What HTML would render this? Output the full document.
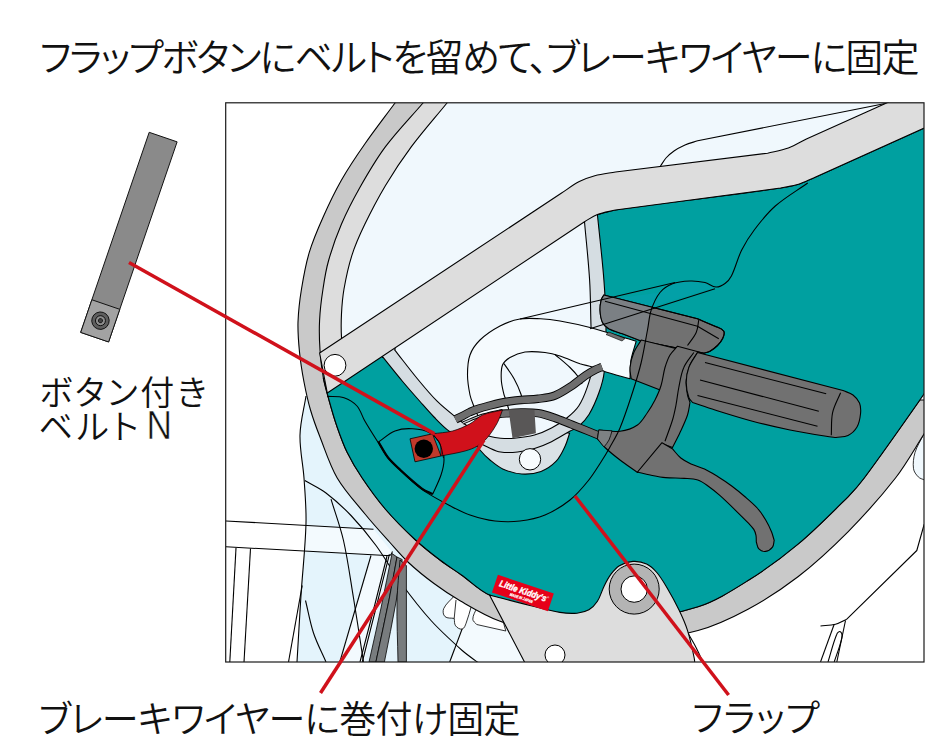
<!DOCTYPE html>
<html lang="ja"><head><meta charset="utf-8"><title>フラップボタンにベルトを留めて、ブレーキワイヤーに固定</title>
<style>
html,body{margin:0;padding:0;background:#fff;}
body{width:945px;height:754px;overflow:hidden;font-family:"Liberation Sans","Noto Sans CJK JP",sans-serif;}
svg{display:block;}
svg text{font-feature-settings:"palt" 1;}
</style></head><body>
<svg width="945" height="754" viewBox="0 0 945 754">
<defs><clipPath id="fr"><rect x="225.7" y="102.8" width="698.3" height="559.2"/></clipPath></defs>
<rect width="945" height="754" fill="#fff"/>
<g clip-path="url(#fr)" stroke-linejoin="round">
<path d="M306 396C304 409 300.3 421.9 300 435C299.6 449.4 303 463.6 304 478C305 493 306.4 508 306 523C305.4 547 302.6 571 301 595C299.6 617.3 298.3 639.7 297 662L640 662L640 400L306 396Z" fill="#e4f4fc" stroke="none" stroke-width="1.1" />
<path d="M305.5 525.3L373.5 529.3L392 552L386 555.5L304.5 551Z" fill="#f3fafe" stroke="none" stroke-width="1.1" />
<path d="M371 555.5L391 554L364 662L339.8 662Z" fill="#f3fafe" stroke="none" stroke-width="1.1" />
<path d="M470 606L505 620L526 662L449.7 662Z" fill="#f3fafe" stroke="none" stroke-width="1.1" />
<path d="M306 396C304 409 300.3 421.9 300 435C299.6 449.4 303 463.6 304 478C305 493 306.4 508 306 523C305.4 547 302.6 571 301 595C299.6 617.3 298.3 639.7 297 662" fill="none" stroke="#000" stroke-width="1.1" />
<path d="M226 521L373.5 529.2" fill="none" stroke="#000" stroke-width="1.1" />
<path d="M226 546.8L386 555.5C387.5 555.3 389.2 555.8 390.5 555C391.6 554.3 391.8 552.7 392.5 551.5" fill="none" stroke="#000" stroke-width="1.1" />
<path d="M236 548L229.8 662" fill="none" stroke="#000" stroke-width="1.1" />
<path d="M250.5 548.5L244 662" fill="none" stroke="#000" stroke-width="1.1" />
<path d="M302.2 585.5L288.5 662" fill="none" stroke="#000" stroke-width="1.1" />
<path d="M305.5 600.5C308.2 611.3 310 622.4 313.5 633C316.8 643 321.8 652.3 326 662" fill="none" stroke="#000" stroke-width="1.1" />
<path d="M331 499.2C335.2 513 340.3 526.5 343.5 540.5C347.8 559.5 350.3 578.8 353.5 598C357 619.3 360.2 640.7 363.5 662" fill="none" stroke="#000" stroke-width="1.1" />
<path d="M371 555.5L339.8 662" fill="none" stroke="#000" stroke-width="1.1" />
<path d="M304.8 480.5C311.8 484.7 319.4 488 326 493C334.9 499.8 343.3 507.4 351 515.5C360 524.9 368.3 535 376 545.5C384.9 557.6 392.1 570.9 401 583C410.5 595.9 420.2 608.6 431 620.5C440.7 631.2 451.5 640.9 462.2 650.5C467.8 655.4 474.1 659.5 480 664" fill="none" stroke="#000" stroke-width="1.1" />
<path d="M470 608L449.7 662" fill="none" stroke="#000" stroke-width="1.1" />
<path d="M389.4 554.4C385.6 569.6 381.8 584.8 378 600C372.8 620.7 367.5 641.3 362.3 662" fill="none" stroke="#000" stroke-width="1.1" />
<path d="M387 556C383 572 379.1 588 375 604C370.1 623.4 365 642.7 360 662" fill="none" stroke="#000" stroke-width="1.1" />
<path d="M392 553.6L397 557C394.3 571.3 391.9 585.7 389 600C384.8 620.7 380.3 641.3 375.9 662L369 662C373 644 377.2 626 381 608C384.8 589.9 388.3 571.7 392 553.6Z" fill="#787c7e" stroke="#000" stroke-width="0.8" />
<path d="M397 557L402.2 559.5C400.2 573.3 398.6 587.2 396.2 601C392.7 621.4 388.3 641.7 384.4 662L375.9 662C380.3 641.3 384.8 620.7 389 600C391.9 585.7 394.3 571.3 397 557Z" fill="#787c7e" stroke="#000" stroke-width="0.8" />
<path d="M400 560L406.4 565.5L406.4 662L398 662C397.7 641.7 396.6 621.3 397 601C397.3 587.3 399 573.7 400 560Z" fill="#787c7e" stroke="#000" stroke-width="0.8" />
<path d="M454.2 596C450.7 600.2 445.9 603.6 443.7 608.6C442.6 611.1 443 614.8 445 616.6C447.3 618.7 451.1 617.8 454.2 618.4C454.7 620.9 454.1 623.8 455.6 625.8C457.1 627.8 459.8 629.6 462.2 629C464.5 628.4 465.2 625.4 466.1 623.2C468.3 617.6 469.6 611.7 471.4 606Z" fill="#fff" stroke="#000" stroke-width="0.8" />
<path d="M454.2 618.4L456 600" fill="none" stroke="#000" stroke-width="0.8" />
<path d="M476.7 608C475.4 611.7 472.8 615.2 472.8 619.2C472.8 621.4 475.4 622.7 476.7 624.5L505.8 631L500 610Z" fill="#fff" stroke="#000" stroke-width="0.8" />
<path d="M924.2 524.2L916.8 550.5L846.8 619.2" fill="none" stroke="#000" stroke-width="1.1" />
<path d="M820.5 626C825.5 625.4 830.6 625.5 835.5 624.2C839.5 623.2 843 620.9 846.8 619.2" fill="none" stroke="#000" stroke-width="1.1" />
<path d="M834.2 624.2L820.5 662" fill="none" stroke="#000" stroke-width="1.1" />
<path d="M845.5 620.5L836.8 662" fill="none" stroke="#000" stroke-width="1.1" />
<path d="M828 662C830.9 652.8 833 643.2 836.8 634.2C837.3 632.9 839.3 630.8 840.5 631.8C842.2 633 842.2 635.9 841.8 638C840.1 646.2 836.8 654 834.2 662" fill="none" stroke="#000" stroke-width="1.1" />
<path d="M923.5 434.6C920.7 440.6 916.9 446.2 915 452.5C913.5 457.7 912.8 463.3 913.5 468.7C913.9 471.8 916.1 474.6 918.3 476.9C919.9 478.6 922.4 479 924.5 480L930 480L930 434Z" fill="#f0f8fd" stroke="#000" stroke-width="0.8" />
<path d="M688.2 633.6C690.8 638.1 693.5 642.6 695.9 647.2C697.7 650.7 699.5 654.3 701 658C701.8 659.9 702.3 662 703 664" fill="none" stroke="#000" stroke-width="1.1" />
<path d="M395 103C384.9 116.7 374.5 130.1 364.8 144C356.6 155.7 348.6 167.6 341.5 180C334.8 191.8 328.9 204.1 323.4 216.5C318.1 228.3 312.9 240.3 309.2 252.7C305.6 264.5 303.5 276.8 301.5 289C299.7 299.9 298.4 310.9 298 322C297.7 332 298.5 342 299.5 352C300.5 362.1 302.1 372.1 304 382C305.8 391.4 307.8 400.8 310.5 410C313.2 419.2 316.5 428.1 320 437C325.4 450.8 329.8 465.2 337.2 478C344.9 491.1 355.4 502.3 365 514C372.8 523.6 381.2 532.8 389.5 542C395.9 549.1 402 556.5 409 563C416.9 570.4 425.3 577.1 434 583.5C442.5 589.8 451.3 595.7 460.5 601C473.2 608.3 485.8 616 499.5 621C519.1 628.1 539.5 633.4 560 637C581.4 640.8 603.3 644 625 643C649.7 641.8 674.2 637 698 630.5C715.5 625.7 732 617.8 748 609.2C765.5 599.8 782.3 588.9 798 576.8C815.7 563 832.2 547.7 848 531.8C864.8 514.7 880.8 496.9 895.5 478C906.2 464.2 914.6 448.8 924 434C932.8 420.1 941.3 406 950 392L960 60L395 60L395 103Z" fill="#c9c9c9" stroke="#000" stroke-width="1.1" />
<path d="M423 103C410.5 117.6 397 131.3 385.5 146.7C375.8 159.7 367.6 173.9 359.6 188C353 199.7 346.8 211.7 341.5 224C336.4 235.9 332.1 248.1 328.6 260.5C325.9 269.8 324.4 279.4 323 289C321.4 299.3 320.1 309.6 319.6 320C319.1 330 319.3 340 320 350C320.6 359.5 321.7 368.9 323.4 378.3C324.7 385.7 327 392.8 329 400C331.3 408.3 333.6 416.6 336.4 424.8C339.6 434 342.7 443.2 347 452C351.4 461 356.6 469.7 362.2 478C369.4 488.7 376.9 499.2 385.3 509C394.5 519.8 404.6 529.8 415 539.5C422.9 546.8 431.4 553.5 440 560C446.9 565.3 454.4 570 461.5 575C470.9 581.6 479 590.5 489.5 595C508.8 603.3 529.3 609.2 550 613C574.7 617.6 599.9 621.1 625 620C649.7 619 674.5 614.3 698 606.8C715.9 601 732 590.5 748 580.5C765.5 569.6 782.2 557.5 798 544.2C815.6 529.5 831.7 513 848 496.8C853.8 490.9 859.3 484.6 864.2 478C884.7 450.4 904.3 422.2 924 394C932.9 381.2 941.3 368 950 355L960 60L423 60L423 103Z" fill="#dddddd" stroke="#000" stroke-width="1.1" />
<path d="M447 103C435.1 117.6 422.6 131.6 411.4 146.7C402.1 159.2 393.5 172.2 385.5 185.5C378 198.1 371.2 211.1 364.8 224.3C359.9 234.4 355.3 244.6 351.9 255.3C348.4 266.3 346 277.6 344 289C342.6 297.1 341.9 305.4 341.5 313.6C341.1 321.4 341 329.1 341.5 336.9C342.2 348 343.2 359.1 345 370C346.7 380.1 349.7 390 352 400L960 400L960 60L447 60L447 103Z" fill="#f0f8fd" stroke="#000" stroke-width="1.1" />
<path d="M660.4 166.2C662.3 163.5 663.8 160.5 666 158C668.4 155.4 671.1 153 674 151C677.4 148.6 681.2 146.7 685 145C689.1 143.2 693.5 142.2 697.7 140.8L889 102.8" fill="none" stroke="#000" stroke-width="1.1" />
<path d="M327.3 391.2L597.4 214.5C603.4 213 609.4 211 615.5 210C640.3 206.1 665.2 203.3 690 200C720.2 196 750.4 192.4 780.5 188C786.6 187.1 792.7 186 798.6 184.2C803.9 182.6 808.9 179.9 814 177.8L960 112L950 355C941.3 368 932.9 381.2 924 394C904.3 422.2 884.7 450.4 864.2 478C859.3 484.6 853.8 490.9 848 496.8C831.7 513 815.6 529.5 798 544.2C782.2 557.5 765.5 569.6 748 580.5C732 590.5 715.9 601 698 606.8C674.5 614.3 649.7 619 625 620C599.9 621.1 574.7 617.6 550 613C529.3 609.2 508.8 603.3 489.5 595C479 590.5 470.9 581.6 461.5 575C454.4 570 446.9 565.3 440 560C431.4 553.5 422.9 546.8 415 539.5C404.6 529.8 394.5 519.8 385.3 509C376.9 499.2 369.4 488.7 362.2 478C356.6 469.7 351.4 461 347 452C342.7 443.2 339.6 434 336.4 424.8C333.6 416.6 331.3 408.3 329 400C327 392.8 325.3 385.5 323.4 378.3L327.3 391.2Z" fill="#00a0a0" stroke="#000" stroke-width="1.1" />
<path d="M660 292.5C664.2 289.6 667.8 285.6 672.5 283.8C678 281.6 684.1 281.2 690 281C695 280.8 700.1 281.4 705 282.5C708.9 283.4 712.3 285.5 716 287L603 322L603 300L660 292.5Z" fill="#0aa0b4" stroke="none" stroke-width="1.1" opacity="0.35"/>
<path d="M378.5 442C384 438.3 388.8 433.4 395 431C400.5 428.9 406.6 428.4 412.5 428.8C418.5 429.1 424.8 430 430 433C434.7 435.7 438.5 440.2 441 445C443.3 449.5 444 454.9 444 460C444 465.1 442.6 470.2 441 475C438.8 481.6 435.5 487.7 432.7 494.1C429.5 492.5 426 491.3 423 489.3C419.4 487 416.2 484.1 413 481.3C408.7 477.6 404.5 473.9 400.4 470C396.1 466 391.6 462.1 388 457.5C384.3 452.7 381.7 447.2 378.5 442Z" fill="#06a0a9" stroke="#000" stroke-width="1.1" />
<path d="M432.7 494.1C429.5 492.5 426 491.3 423 489.3C419.4 487 416.2 484.1 413 481.3C408.7 477.6 404.5 473.9 400.4 470C396.1 466 391.6 462.1 388 457.5C384.3 452.7 381.7 447.2 378.5 442" fill="none" stroke="#000" stroke-width="2.2" />
<path d="M474 441C476 444 477.7 447.2 480 450C483 453.6 486.4 457 490 460C494 463.3 498 466.8 502.7 468.9C508.7 471.6 515.2 473.6 521.8 474C528.2 474.4 534.9 473.7 541 471.4C546.7 469.3 552 465.6 556.2 461.2C560.3 456.9 562.7 451.3 565.2 446C567.1 441.9 568.1 437.5 569.6 433.2L530 425L474 441Z" fill="#dbe2e6" stroke="#000" stroke-width="1.1" />
<path d="M382.9 357.2C389.3 365.1 395.6 373.2 402.2 381C408 387.9 414 394.7 420 401.5C424.6 406.7 429.1 412 434 417C438.7 421.8 443.4 426.9 448.8 430.9C453.8 434.6 459.3 437.7 465 440C469.8 441.9 475.2 442 480.2 443.5C482.6 444.2 484.7 445.8 487 446.8C491.5 448.7 495.8 451.2 500.6 452C506.2 452.9 512 452.6 517.6 452C523.3 451.4 529 450.2 534.5 448.5C540.3 446.7 546 444.4 551.5 441.7C557.9 438.5 563.9 434.5 570.2 431C573 429.4 576.3 428.5 578.7 426.4C582.6 422.9 586.3 419 589 414.5C593.1 407.6 596.3 400.1 599 392.5C601.4 385.9 603.5 379 604.2 372C605.8 356.9 606 341.7 606 326.5C605.9 311 605.1 295.5 603.9 280C602.2 258.1 599.6 236.3 597.4 214.5L570 200L383 320L382.5 357.5Z" fill="#d5dde2" stroke="#000" stroke-width="1.1" />
<path d="M394.6 349.8C402.4 359.7 410 369.8 418 379.5C424.1 386.9 430.3 394.4 437.1 401.2C442.7 406.8 448.9 411.7 455.1 416.6C460.6 421 465.9 425.6 472 429C477.8 432.3 484.1 434.5 490.4 436.6C493.7 437.7 497.2 438.1 500.6 438.3C505.1 438.6 509.7 438.7 514.2 438.3C521 437.6 527.9 436.8 534.5 435C540.4 433.4 546.1 430.9 551.5 428C556.9 425.2 562.1 421.8 566.8 418C571.2 414.5 575.6 410.7 578.7 406C582.5 400.3 585 393.8 587.2 387.4C589.5 380.8 591.9 374 592.3 367C593.1 353.4 591.4 339.7 591 326C590.5 310.7 590.6 295.3 589.6 280C588.4 260.5 586.2 241.1 584.5 221.7L560 200L396 320L395 350Z" fill="#f0f8fd" stroke="#000" stroke-width="1.1" />
<circle cx="530" cy="459.3" r="10.7" fill="#f8fcfe" stroke="#000" stroke-width="1"/>
<path d="M319.6 353L561.2 193.3C567.2 189.4 572.9 184.9 579.3 181.6C584.2 179 589.5 177.1 594.8 175.7C601.6 173.9 608.6 173.2 615.5 172L767.6 153.2C774.5 151.5 781.6 150.4 788.3 148C794.6 145.7 800.4 142 806.4 139L960 70L960 112L814 177.8C808.9 179.9 803.9 182.6 798.6 184.2C792.7 186 786.5 186.7 780.5 188L615.5 210C609.5 211.5 603.2 212.3 597.4 214.5C592.8 216.2 588.8 219.3 584.5 221.7L327.3 393Z" fill="#dddddd" stroke="#000" stroke-width="1.1" />
<circle cx="335" cy="365.3" r="10.9" fill="#fff" stroke="#000" stroke-width="1"/>
<path d="M636.2 341.2C620.8 336.7 605.5 331.6 590 327.5C580.1 324.9 570.1 322.8 560 321C553.6 319.9 547 319.1 540.5 318.8C533.7 318.5 526.7 317.8 520 319C513 320.2 506.3 322.7 500 326C492.8 329.8 485.9 334.3 480 340C475.7 344.2 472 349.3 470 355C467.7 361.3 467.5 368.3 467.5 375C467.5 381.7 468.7 388.4 470 395C470.8 398.8 472.4 402.4 473.8 406C475 409.4 476.6 412.7 478 416L510 414C508.7 409.3 507.4 404.6 506 400C505.3 397.9 504.3 395.9 503.8 393.8C502.7 389.2 501.5 384.7 501.3 380C501.1 375 500.7 369.7 502.5 365C503.8 361.7 506.9 359.3 510 357.5C514.6 354.8 519.7 352.8 525 352C531.6 351.1 538.4 351.7 545 352.5C550.1 353.1 555.1 354.4 560 356C566.8 358.2 573.2 361.4 580 363.8C584 365.1 588.3 365.7 592.3 367C596.9 368.5 601.3 370.6 605.9 372C613.9 374.5 622 376.5 630 378.8C630.3 372.5 630 366.2 631 360C632.1 353.6 634.5 347.5 636.2 341.2Z" fill="#f6fbfe" stroke="#000" stroke-width="1.1" />
<path d="M504 363.6C507.4 368.7 511.2 373.5 514.2 378.9C516.9 383.8 519.2 388.9 521 394.2C522.1 397.3 522.3 400.7 523 404" fill="none" stroke="#000" stroke-width="1.1" />
<path d="M555 354.5C560 358.8 565.2 362.9 570 367.5C573.2 370.6 576.1 373.9 578.8 377.5C580.2 379.5 580.9 381.8 582 384" fill="none" stroke="#000" stroke-width="1.1" />
<path d="M463 423C468.7 420.7 474.2 417.8 480 416C487.4 413.7 495 412.3 502.5 410.5" fill="none" stroke="#000" stroke-width="3.1" stroke-linecap="butt"/>
<path d="M463 423C468.7 420.7 474.2 417.8 480 416C487.4 413.7 495 412.3 502.5 410.5" fill="none" stroke="#c8ccce" stroke-width="1.3" stroke-linecap="butt"/>
<path d="M455.5 419.5C458 418.2 460.5 417 463 415.7C465.3 414.5 467.6 413.1 470 412C473.3 410.6 476.6 409.4 480 408.3C483.3 407.2 486.7 406.4 490 405.5C493.3 404.6 496.6 403.7 500 403C503.3 402.3 506.6 401.7 510 401.2C513.7 400.7 517.3 400.3 521 400C526.7 399.5 532.4 399.5 538 398.8C543.7 398 549.6 397.6 555 395.5C561.1 393.1 566.5 389.3 572 385.7C576.7 382.6 580.8 378.7 585.5 375.5C588.8 373.3 592.2 371.3 595.7 369.5C597.7 368.5 599.9 367.8 602 367" fill="none" stroke="#000" stroke-width="8.5" stroke-linecap="butt"/>
<path d="M455.5 419.5C458 418.2 460.5 417 463 415.7C465.3 414.5 467.6 413.1 470 412C473.3 410.6 476.6 409.4 480 408.3C483.3 407.2 486.7 406.4 490 405.5C493.3 404.6 496.6 403.7 500 403C503.3 402.3 506.6 401.7 510 401.2C513.7 400.7 517.3 400.3 521 400C526.7 399.5 532.4 399.5 538 398.8C543.7 398 549.6 397.6 555 395.5C561.1 393.1 566.5 389.3 572 385.7C576.7 382.6 580.8 378.7 585.5 375.5C588.8 373.3 592.2 371.3 595.7 369.5C597.7 368.5 599.9 367.8 602 367" fill="none" stroke="#6e6e6e" stroke-width="6.7" stroke-linecap="butt"/>
<path d="M499 414C506.3 413.5 513.7 412.7 521 412.5C526.7 412.4 532.4 412.3 538 413.2C543.8 414.1 549.4 416.1 555 418C560.8 420 566.3 422.5 572 424.7C577.7 427 583.3 429.2 589 431.5C592.7 433 596.3 434.5 600 436" fill="none" stroke="#000" stroke-width="8.3" stroke-linecap="butt"/>
<path d="M499 414C506.3 413.5 513.7 412.7 521 412.5C526.7 412.4 532.4 412.3 538 413.2C543.8 414.1 549.4 416.1 555 418C560.8 420 566.3 422.5 572 424.7C577.7 427 583.3 429.2 589 431.5C592.7 433 596.3 434.5 600 436" fill="none" stroke="#6e6e6e" stroke-width="6.5" stroke-linecap="butt"/>
<path d="M508.5 409.2L534.6 409.9C534.6 410 534.5 410.2 534.5 410.3C534.9 417.9 535.4 425.6 535.9 433.2L512.5 438.3Z" fill="#595757" stroke="none" stroke-width="1.1" />
<path d="M603.8 295L697.5 318.8C703.3 321.2 709.3 323.5 715 326.2C718 327.7 722 328.4 723.8 331.2C725.1 333.4 723.5 336.4 722.5 338.8C721.4 341.3 719.5 343.5 717.5 345.5C715.3 347.7 712.7 349.7 710 351.2C708.1 352.3 705.8 352.6 703.8 353.2L641.2 341L622.5 333.8C617.9 332.1 613 331.1 608.8 328.8C606.2 327.3 603.7 325.2 602.5 322.5C600.7 318.6 600.2 314.2 600 310C599.8 306.6 600.4 303.3 601.2 300C601.7 298.2 602.9 296.7 603.8 295Z" fill="#717171" stroke="#000" stroke-width="1.1" />
<clipPath id="clampc"><path d="M603.8 295L697.5 318.8C703.3 321.2 709.3 323.5 715 326.2C718 327.7 722 328.4 723.8 331.2C725.1 333.4 723.5 336.4 722.5 338.8C721.4 341.3 719.5 343.5 717.5 345.5C715.3 347.7 712.7 349.7 710 351.2C708.1 352.3 705.8 352.6 703.8 353.2L641.2 341L622.5 333.8C617.9 332.1 613 331.1 608.8 328.8C606.2 327.3 603.7 325.2 602.5 322.5C600.7 318.6 600.2 314.2 600 310C599.8 306.6 600.4 303.3 601.2 300C601.7 298.2 602.9 296.7 603.8 295Z"/></clipPath>
<path d="M660 292.5C657.1 298.3 653.3 303.8 651.2 310C649.1 316.4 648.8 323.3 647.5 330C645.4 340.8 643.3 351.7 641.2 362.5L590 362L590 290L660 292.5Z" fill="#7b8084" stroke="none" stroke-width="1.1" clip-path="url(#clampc)"/>
<path d="M603.8 295L697.5 318.8C703.3 321.2 709.3 323.5 715 326.2C718 327.7 722 328.4 723.8 331.2C725.1 333.4 723.5 336.4 722.5 338.8C721.4 341.3 719.5 343.5 717.5 345.5C715.3 347.7 712.7 349.7 710 351.2C708.1 352.3 705.8 352.6 703.8 353.2L641.2 341L622.5 333.8C617.9 332.1 613 331.1 608.8 328.8C606.2 327.3 603.7 325.2 602.5 322.5C600.7 318.6 600.2 314.2 600 310C599.8 306.6 600.4 303.3 601.2 300C601.7 298.2 602.9 296.7 603.8 295Z" fill="none" stroke="#000" stroke-width="1.1" />
<path d="M605 301.2L697.5 326.2L718.8 338.8" fill="none" stroke="#000" stroke-width="1.1" />
<path d="M698.8 320C697.9 324.2 698 328.6 696.2 332.5C694.1 337.3 690.4 341.2 687.5 345.5" fill="none" stroke="#000" stroke-width="1.1" />
<path d="M641.2 340C638.8 344.2 635.6 348 633.8 352.5C631.8 357.3 630.5 362.4 630 367.5C629.6 371.3 630.8 375 631.2 378.8L664 391.5L690 352L641.2 340Z" fill="#717171" stroke="#000" stroke-width="1.1" />
<path d="M677.5 346.2L703.8 353.2L697.5 352.5C695 356.7 691.8 360.5 690 365C688 369.8 686.7 374.9 686.2 380C685.8 385 686.7 390.1 687.5 395C687.9 397.6 689.2 400 690 402.5C689.2 406.7 688.8 411 687.5 415C685.5 421 682.7 426.7 680 432.5C677.7 437.6 675 442.5 672.5 447.5L662.5 443.8L637.5 472.5C631.7 468.3 625.7 464.4 620 460C614.8 456 609.7 452 605 447.5C602.2 444.9 600 441.7 597.5 438.8L598.8 430C605.8 430.4 613 432.2 620 431.2C626.1 430.5 632.4 428.5 637.5 425C641.9 422 644.4 416.9 647.5 412.5C650.3 408.5 652.8 404.3 655 400C657.4 395.2 659.7 390.2 661.2 385C663 379.3 663.3 373.2 665 367.5C666.3 363.2 667.7 358.9 670 355C671.9 351.7 675 349.2 677.5 346.2Z" fill="#717171" stroke="#000" stroke-width="1.1" />
<path d="M693.8 352.5C690.4 357.5 686.1 362 683.8 367.5C681 373.8 680.1 380.8 678.8 387.5C677.6 393.3 677.1 399.2 676 405C675 410 674 415.1 672.5 420C670.3 427.2 667.5 434.2 665 441.2" fill="none" stroke="#000" stroke-width="1.1" />
<path d="M662 442.7L672.3 448.7C675.1 451.8 677.5 455.3 680.8 458C683.9 460.5 687.4 462.3 691 464C695.4 466 700.2 467 704.5 469C709.2 471.2 713.6 474 718 476.7C722.7 479.6 727.3 482.7 731.7 486C736.4 489.5 740.9 493.2 745.3 497C749.4 500.5 753.6 504 757.2 508C760.5 511.7 763.2 515.8 765.7 520C768 523.8 769.9 527.9 771.6 532C772.7 534.7 773.3 537.6 774.2 540.4C773.6 542.7 773.9 545.4 772.5 547.2C770.9 549.3 768.3 551.1 765.7 551.4C763.3 551.7 760.6 550.6 758.9 548.9C757.2 547.2 757.2 544.3 756.3 542C756.2 539.8 756.4 537.5 756 535.3C755.6 533.2 754.9 531.2 753.8 529.4C752.4 527.2 750.5 525.3 748.7 523.4C744.2 518.8 739.6 514.3 735 509.8C730 504.9 725 500 719.8 495.4C716 492.1 712.1 488.9 708 486C704.8 483.7 701.6 481.2 697.8 480C693.5 478.6 688.8 478.7 684.2 478.4C678 477.9 671.7 478.2 665.5 477.6C660.4 477.1 655.3 476 650.2 475C645.9 474.1 641.7 473 637.5 472L662 442.7Z" fill="#717171" stroke="#000" stroke-width="1.1" />
<path d="M697.5 352.5L843 390.5C846.3 392 850.1 392.8 853 395C855.7 397.1 858.2 399.8 859.5 403C860.9 406.4 860.9 410.3 860.5 414C860 418.5 859.3 423.1 857 427C854.9 430.6 851.7 433.7 848 435.5C844.4 437.3 840 436.8 836 437.5C832.8 437.1 829.5 436.8 826.2 436.2C814.1 434.3 802 432.4 790 430C777.4 427.4 764.9 424.6 752.5 421.2C739.9 417.9 727.5 413.9 715 410C707.5 407.6 700 405 692.5 402.5C691.2 400.8 689.4 399.5 688.8 397.5C687.2 392.7 686.2 387.6 686.2 382.5C686.2 377.4 687 372.2 688.8 367.5C690.8 362.1 694.6 357.5 697.5 352.5Z" fill="#717171" stroke="#000" stroke-width="1.1" />
<path d="M705 362.5L826.2 393.8" fill="none" stroke="#000" stroke-width="1.1" />
<path d="M700 380L818.8 411.2" fill="none" stroke="#000" stroke-width="1.1" />
<path d="M697.5 395.5L817.5 426.2" fill="none" stroke="#000" stroke-width="1.1" />
<path d="M840.6 392.8C837.9 399.4 834.1 405.7 832.6 412.7C831 420.1 831.7 427.8 831.3 435.3" fill="none" stroke="#000" stroke-width="1.1" />
<path d="M598.8 430L612 430.8C611 433.9 610.4 437.1 609 440C607.7 442.6 605.7 444.7 604 447L597.5 438.8Z" fill="#7d8183" stroke="#000" stroke-width="0.8" />
<path d="M327.3 396.4C332.9 396.8 338.7 396 344 397.7C348.9 399.3 353.6 402.2 357 406C360.7 410.1 361.9 416 364.7 420.8C369 428.3 373.7 435.5 378.3 442.8C381.5 447.9 384.3 453.3 388 458C391.7 462.6 396.2 466.4 400.4 470.5C404.5 474.4 408.7 478.3 413 482C417.2 485.5 421.3 489.2 425.9 492.1C433.7 497.1 441.8 501.4 450 505.7C456.5 509.1 463 512.6 470 515C478.1 517.8 486.5 520 495 521C503.3 522 511.7 522 520 521C528.5 520 537.1 518.3 545 515C554 511.2 562.4 506 570 500C576.8 494.6 582.5 487.8 588 481C592.9 475.1 596.8 468.4 601 462C604.2 457.1 607.2 452.1 610 447C613.5 440.8 617.3 434.6 620 428C624.8 416.4 628.6 404.4 632.5 392.5C635.7 382.6 638.8 372.6 641.2 362.5C643.8 351.8 645.4 340.8 647.5 330C648.8 323.3 649.1 316.4 651.2 310C653.3 303.8 655.9 297.6 660 292.5C663.2 288.5 667.8 285.6 672.5 283.8C678 281.6 684.1 281.2 690 281C695 280.8 700.1 281.4 705 282.5C708.9 283.4 712 286.8 716 287C719.2 287.2 722.4 285.4 725 283.5C727.7 281.6 729.9 278.9 731.4 276C735.6 267.7 737.5 258.3 741.7 250C745.3 242.8 749.7 235.9 754.6 229.5C760.9 221.2 767.4 212.9 775.3 206C785.3 197.3 796.9 190.7 807.7 183" fill="none" stroke="#000" stroke-width="1.1" />
<path d="M520 319L675 282.5" fill="none" stroke="#000" stroke-width="1.1" />
<path d="M590 328.8L715 288.8" fill="none" stroke="#000" stroke-width="1.1" />
<path d="M608.8 332L625 338.5L622 341L606 334.5Z" fill="#717171" stroke="#000" stroke-width="0.6" />
<path d="M410 438.8L432.5 433.8L441 456L415 461.8Z" fill="#c0392b" stroke="#000" stroke-width="0.8" />
<path d="M432.5 433.8C439.2 432.8 446 432.7 452.5 431C458.6 429.4 464.4 426.7 470 423.8C474.5 421.4 477.8 417 482.5 415C488.8 412.3 495.8 411.7 502.5 410C500.8 414.2 499.6 418.6 497.5 422.5C494.6 427.8 491.4 432.9 487.5 437.5C484.7 440.8 481.3 443.7 477.5 446C473.7 448.3 469.3 449.8 465 451C457.1 453.2 449 454.3 441 456C440.7 452 441.4 447.7 440 444C438.5 440 435 437.2 432.5 433.8Z" fill="#d0111b" stroke="#000" stroke-width="0.7" />
<path d="M432.5 433.8C435 437.2 438.3 440.1 440 444C442 448.4 442.3 453.3 443.5 458" fill="none" stroke="#000" stroke-width="0.8" />
<circle cx="423.8" cy="448.8" r="9.2" fill="#000" stroke="none" stroke-width="1"/>
<path d="M489.5 595C503 598.5 516.5 602.2 530 605.5C540 608 549.9 610.7 560 612.4C565.6 613.3 571.3 613.7 577 613.2C581.1 612.8 585.3 611.9 588.9 609.8C592.4 607.8 595.2 604.7 597.4 601.3C600.4 596.6 601.7 591 604.2 586C606.2 581.9 608.3 577.8 611 574.2C613.4 571 616 567.7 619.4 565.7C623.5 563.3 628.3 561.7 633 561.4C637.6 561.1 642.4 562 646.6 564C650.6 565.9 653.9 569.1 656.8 572.5C660.8 577.1 663.9 582.5 667 587.7C671.3 594.9 675.3 602.3 678.9 609.8C682.1 616.4 685.2 623.2 687.4 630.2C690.3 639.3 692.3 648.6 694.2 658C694.9 661.3 694.7 664.7 695 668L700 700L540 700L524.5 662L489.5 595Z" fill="#dddddd" stroke="#000" stroke-width="1.1" />
<circle cx="634.2" cy="589.1" r="25" fill="#b4b4b4" stroke="#000" stroke-width="1"/>
<circle cx="634.2" cy="589.1" r="13.2" fill="#fff" stroke="#000" stroke-width="1"/>
<circle cx="555" cy="655" r="10" fill="#fff" stroke="#000" stroke-width="1"/>
<g transform="translate(497.9,574.8) rotate(18.6)"><rect x="0" y="0" width="59" height="18.6" fill="#e60019"/><text x="4.5" y="10.4" font-family="Liberation Sans, sans-serif" font-weight="bold" font-style="italic" font-size="9" fill="#fff" stroke="#fff" stroke-width="0.4" textLength="49" lengthAdjust="spacingAndGlyphs">Little Kiddy's</text><text x="54" y="6.2" font-family="Liberation Sans, sans-serif" font-weight="bold" font-size="2.6" fill="#fff">®</text><text x="17.5" y="15.9" font-family="Liberation Sans, sans-serif" font-weight="bold" font-style="italic" font-size="4" fill="#fff" stroke="#fff" stroke-width="0.25" textLength="24" lengthAdjust="spacingAndGlyphs">MADE IN JAPAN</text></g>
</g>
<rect x="225.7" y="102.8" width="698.3" height="559.2" fill="none" stroke="#1a1a1a" stroke-width="1.2"/>
<g transform="translate(149.2,132.3) rotate(18.9)"><rect x="0" y="0" width="29.5" height="211.5" fill="#8a8a8a" stroke="#111" stroke-width="0.9"/><rect x="0" y="177" width="29.5" height="34.5" fill="#a2a2a2" stroke="#111" stroke-width="0.9"/><circle cx="14.9" cy="194" r="8.7" fill="#5e5e5e" stroke="#111" stroke-width="0.9"/><circle cx="14.9" cy="194" r="5" fill="#8c8c8c" stroke="#111" stroke-width="0.9"/><circle cx="14.9" cy="194" r="2.1" fill="#444" stroke="#111" stroke-width="0.8"/></g>
<line x1="129" y1="262.5" x2="434.6" y2="433.9" stroke="#d0111b" stroke-width="3.5"/>
<line x1="320.5" y1="693" x2="484" y2="440" stroke="#d0111b" stroke-width="3.5"/>
<line x1="575" y1="496" x2="728.6" y2="695" stroke="#d0111b" stroke-width="3.5"/>
<text x="39.5" y="70.5" font-size="38" textLength="880" lengthAdjust="spacing" font-family="Liberation Sans, Noto Sans CJK JP, sans-serif" font-weight="350" fill="#111">フラップボタンにベルトを留めて、ブレーキワイヤーに固定</text>
<text x="39.5" y="404.5" font-size="34" textLength="167" lengthAdjust="spacing" font-family="Liberation Sans, Noto Sans CJK JP, sans-serif" font-weight="350" fill="#111">ボタン付き</text>
<text x="38.5" y="438.5" font-size="34" textLength="100" lengthAdjust="spacing" font-family="Liberation Sans, Noto Sans CJK JP, sans-serif" font-weight="350" fill="#111">ベルト</text>
<text x="38.5" y="732.6" font-size="37" textLength="482" lengthAdjust="spacing" font-family="Liberation Sans, Noto Sans CJK JP, sans-serif" font-weight="350" fill="#111">ブレーキワイヤーに巻付け固定</text>
<text x="692" y="732.2" font-size="37" textLength="127.5" lengthAdjust="spacing" font-family="Liberation Sans, Noto Sans CJK JP, sans-serif" font-weight="350" fill="#111">フラップ</text>
<text x="146.5" y="438.5" font-size="40" font-family="Liberation Sans, Noto Sans CJK JP, sans-serif" fill="#111" stroke="#fff" stroke-width="0.55" textLength="25.5" lengthAdjust="spacingAndGlyphs">N</text>
</svg>
</body></html>
